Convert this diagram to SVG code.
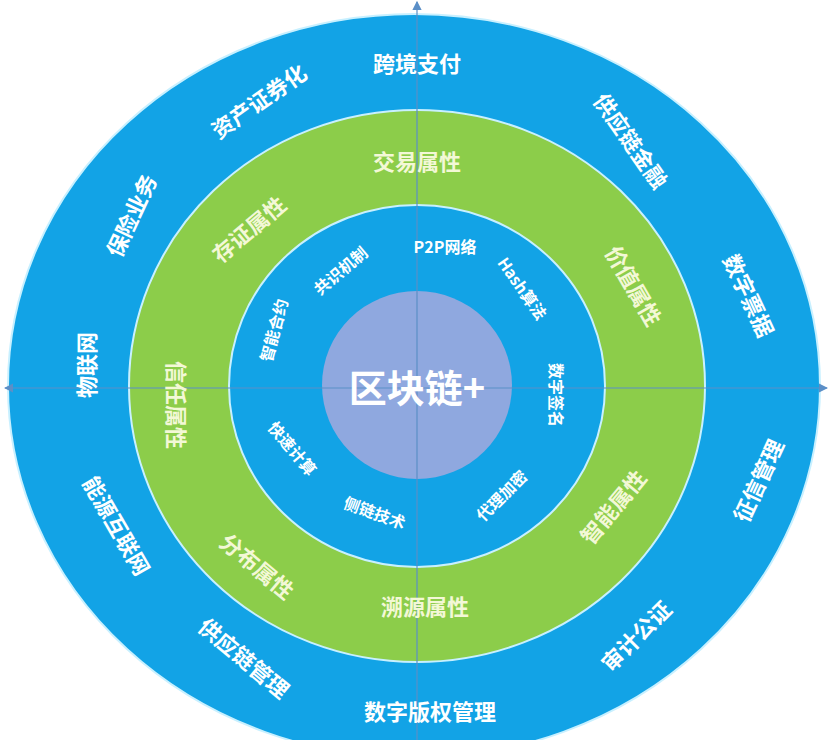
<svg xmlns="http://www.w3.org/2000/svg" width="831" height="740" viewBox="0 0 831 740">
<style>
.r{stroke:#c8f0ff;stroke-width:2}
text{font-family:"Noto Sans CJK SC","Liberation Sans",sans-serif;font-weight:bold;text-anchor:middle;dominant-baseline:central}
.o{fill:#fff;font-size:22px}
.g{fill:#f3f8d6;font-size:22px}
.i{fill:#fff;font-size:16px}
.ax{stroke:#5b8fc7;stroke-width:1.2;fill:none}
</style>
<defs><marker id="a" markerWidth="8" markerHeight="8" refX="7" refY="4" orient="auto"><path d="M0,0L8,4L0,8z" fill="#5b8fc7"/></marker></defs>
<rect width="831" height="740" fill="#fff"/>
<g id="outer"><ellipse class="r" cx="414" cy="386" rx="406" ry="372" fill="#12a3e6"/></g>
<g id="green"><ellipse class="r" cx="417" cy="386" rx="288" ry="276" fill="#8ccd4a"/></g>
<g id="inner"><ellipse class="r" cx="417" cy="386" rx="188" ry="181" fill="#12a3e6"/></g>
<g id="center"><ellipse cx="417" cy="385" rx="95" ry="94" fill="#8fa8df"/></g>
<g id="connectors">
<line class="ax" x1="417" y1="740" x2="417" y2="2" marker-end="url(#a)"/>
<line class="ax" x1="417" y1="388" x2="5" y2="388" marker-end="url(#a)"/>
<line class="ax" x1="417" y1="388" x2="827" y2="388" marker-end="url(#a)"/>
</g>
<g id="center-label"><text x="417" y="385" fill="#fff" font-size="38">区块链+</text></g>
<g id="outer-labels" class="o">
<text class="o" x="417" y="62">跨境支付</text>
<text class="o" transform="translate(258,100) rotate(-35)">资产证券化</text>
<text class="o" transform="translate(632,140) rotate(55)">供应链金融</text>
<text class="o" transform="translate(130,215) rotate(-65)">保险业务</text>
<text class="o" transform="translate(750,295) rotate(65)">数字票据</text>
<text class="o" transform="translate(85,365) rotate(-90)">物联网</text>
<text class="o" transform="translate(757,480) rotate(-65)">征信管理</text>
<text class="o" transform="translate(118,525) rotate(60)">能源互联网</text>
<text class="o" transform="translate(245,657) rotate(40)">供应链管理</text>
<text class="o" x="430" y="710">数字版权管理</text>
<text class="o" transform="translate(635,635) rotate(-45)">审计公证</text>
</g>
<g id="green-labels">
<text class="g" x="417" y="160">交易属性</text>
<text class="g" transform="translate(248,228) rotate(-40)">存证属性</text>
<text class="g" transform="translate(635,285) rotate(60)">价值属性</text>
<text class="g" transform="translate(178,405) rotate(90)">信任属性</text>
<text class="g" transform="translate(612,506) rotate(-50)">智能属性</text>
<text class="g" x="425" y="605">溯源属性</text>
<text class="g" transform="translate(258,565) rotate(40)">分布属性</text>
</g>
<g id="inner-labels">
<text class="i" x="445" y="246">P2P网络</text>
<text class="i" transform="translate(340,270) rotate(-40)">共识机制</text>
<text class="i" transform="translate(523,288) rotate(55)">Hash算法</text>
<text class="i" transform="translate(273,330) rotate(-75)">智能合约</text>
<text class="i" transform="translate(557,395) rotate(90)">数字签名</text>
<text class="i" transform="translate(293,448) rotate(50)">快速计算</text>
<text class="i" transform="translate(375,512) rotate(20)">侧链技术</text>
<text class="i" transform="translate(501,495) rotate(-45)">代理加密</text>
</g>
</svg>
